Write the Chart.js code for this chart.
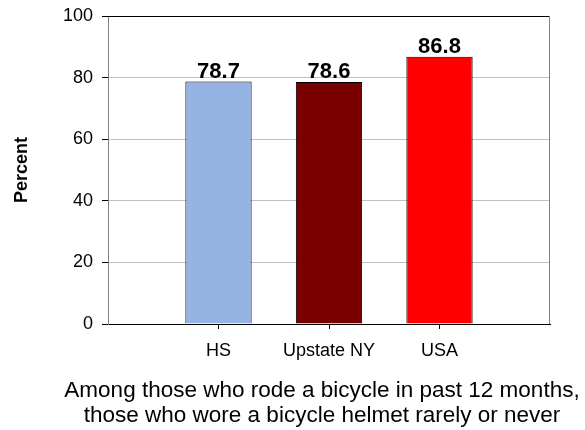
<!DOCTYPE html>
<html lang="en">
<head>
    <meta charset="UTF-8">
    <title>Bicycle helmet use</title>
    <script src="https://cdn.jsdelivr.net/npm/chart.js"></script>
    <style>
        html, body { margin: 0; padding: 0; background: #fff; }
        #wrap { width: 585px; height: 430px; }
    </style>
</head>
<body>
    <div id="wrap"><canvas id="grafico"></canvas></div>
    <script>
        // Datos
        const categorias = ['HS', 'Upstate NY', 'USA'];
        const valores = [78.7, 78.6, 86.8];
        const colores = ['#95b3e3', '#7a0000', '#ff0000'];
        const ticksY = [0, 20, 40, 60, 80, 100];
        const tituloX = ['Among those who rode a bicycle in past 12 months,', 'those who wore a bicycle helmet rarely or never'];
        const tituloY = 'Percent';

        // Excel deja un hueco a cada lado: se agrega una categoria vacia en cada extremo
        const etiquetas = [''].concat(categorias, ['']);
        const datos = [null].concat(valores, [null]);
        const fondos = ['#fff'].concat(colores, ['#fff']);

        const fuente = "'Liberation Sans', Arial, sans-serif";

        // Etiquetas de valor sobre las barras
        const etiquetasValor = {
            id: 'etiquetasValor',
            afterDatasetsDraw(chart) {
                const ctx = chart.ctx;
                const meta = chart.getDatasetMeta(0);
                ctx.save();
                ctx.font = 'bold 22px ' + fuente;
                ctx.fillStyle = '#000';
                ctx.textAlign = 'center';
                ctx.textBaseline = 'alphabetic';
                meta.data.forEach((barra, i) => {
                    const v = datos[i];
                    if (v === null) return;
                    ctx.fillText(v.toFixed(1), barra.x, barra.y - 4);
                });
                ctx.restore();
            }
        };

        // Borde superior y derecho del area de trazado + titulo del eje x (sin compresion)
        const bordeArea = {
            id: 'bordeArea',
            afterDraw(chart) {
                const { ctx, chartArea: a } = chart;
                ctx.save();
                ctx.lineWidth = 1;
                ctx.strokeStyle = '#000';
                ctx.beginPath();
                ctx.moveTo(a.left, a.top + 0.5);
                ctx.lineTo(a.right, a.top + 0.5);
                ctx.stroke();
                ctx.strokeStyle = '#808080';
                ctx.beginPath();
                ctx.moveTo(a.right - 0.5, a.top);
                ctx.lineTo(a.right - 0.5, a.bottom);
                ctx.stroke();

                ctx.font = '22.5px ' + fuente;
                ctx.fillStyle = '#000';
                ctx.textAlign = 'center';
                ctx.textBaseline = 'alphabetic';
                const cx = (a.left + a.right) / 2 - 7;
                const base = chart.scales.x.bottom - 8;
                tituloX.forEach((linea, i) => {
                    ctx.fillText(linea, cx, base - (tituloX.length - 1 - i) * 25);
                });
                ctx.restore();
            }
        };

        new Chart(document.getElementById('grafico'), {
            type: 'bar',
            data: {
                labels: etiquetas,
                datasets: [{
                    data: datos,
                    backgroundColor: fondos,
                    borderColor: '#000',
                    borderWidth: 1,
                    categoryPercentage: 1,
                    barPercentage: 0.6
                }]
            },
            options: {
                responsive: true,
                maintainAspectRatio: false,
                animation: false,
                layout: { padding: { top: 16, right: 35, left: 0, bottom: 0 } },
                plugins: {
                    legend: { display: false },
                    tooltip: { enabled: false }
                },
                scales: {
                    x: {
                        offset: false,
                        afterFit(scale) { scale.height = 106; },
                        grid: {
                            offset: false,
                            drawOnChartArea: false,
                            drawTicks: true,
                            tickLength: 5,
                            // sin marcas en las categorias vacias de los extremos
                            tickColor: ctx => etiquetas[ctx.index] ? '#000' : 'rgba(0,0,0,0)'
                        },
                        border: { color: '#000', width: 1 },
                        ticks: {
                            color: '#000',
                            font: { family: fuente, size: 18 },
                            padding: 11,
                            maxRotation: 0,
                            autoSkip: false
                        }
                    },
                    y: {
                        min: 0,
                        max: 100,
                        afterFit(scale) {
                            scale.width = 108;
                            scale.paddingTop = 0;
                            scale.paddingBottom = 0;
                        },
                        afterBuildTicks(scale) { scale.ticks = ticksY.map(v => ({ value: v })); },
                        grid: {
                            color: '#c0c0c0',
                            tickColor: '#000',
                            tickLength: 6
                        },
                        border: { color: '#808080', width: 1 },
                        ticks: {
                            color: '#000',
                            font: { family: fuente, size: 18 },
                            padding: 9
                        },
                        title: {
                            display: true,
                            text: tituloY,
                            color: '#000',
                            font: { family: fuente, size: 18, weight: 'bold' },
                            padding: { top: 11, bottom: 0 }
                        }
                    }
                }
            },
            plugins: [etiquetasValor, bordeArea]
        });
    </script>
</body>
</html>
